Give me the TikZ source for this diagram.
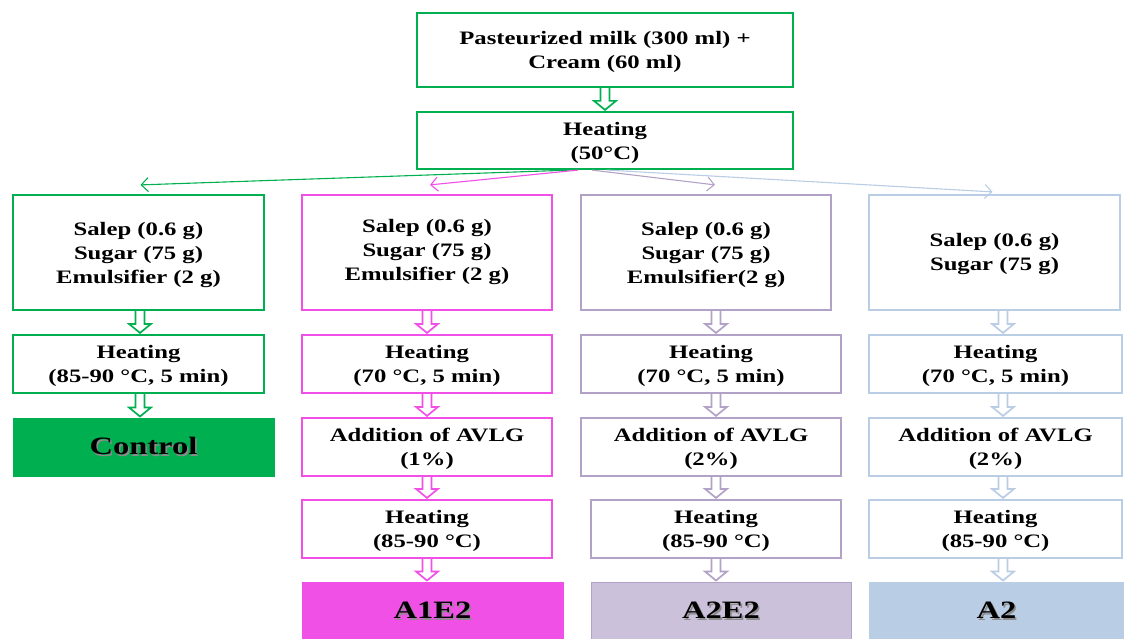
\documentclass[tikz,border=0pt]{standalone}
\usepackage{fontspec}
\setmainfont{Liberation Serif}[FakeStretch=1.3]
\usetikzlibrary{arrows.meta,calc}
\definecolor{grn}{HTML}{00B050}
\definecolor{pnk}{HTML}{F050E6}
\definecolor{prp}{HTML}{B3A2C7}
\definecolor{prpfill}{HTML}{CCC1DA}
\definecolor{blu}{HTML}{B9CDE5}
\newcommand{\shadowtext}[1]{\rlap{\hspace{1.6pt}\raisebox{-1.6pt}{\textcolor{black!45}{#1}}}#1}

\begin{document}
\begin{tikzpicture}[x=1pt, y=1pt,
    box/.style={draw=#1, line width=2.2pt, fill=white, align=center, inner sep=0pt,
      text depth=-12pt, font=\fontsize{19}{24}\selectfont\bfseries},
    fin/.style={draw=#1, line width=1pt, fill=#1, inner sep=0pt, minimum height=58,
      font=\fontsize{25}{29}\selectfont\bfseries},
    blk/.style={draw=#1, line width=1.7pt, fill=white, line join=miter, to path={
      let \p1=(\tikztostart), \p2=(\tikztotarget) in
      (\x1-4.5pt,\y1) -- (\x1-4.5pt,\y2+10pt) -- (\x1-11pt,\y2+10pt) -- (\x1,\y2+1pt)
      -- (\x1+11pt,\y2+10pt) -- (\x1+4.5pt,\y2+10pt) -- (\x1+4.5pt,\y1)}},
    fan/.style={draw=#1, line width=1.1pt, -{Straight Barb[length=7pt, width=14pt]}}]
    \useasboundingbox (0,0) rectangle (1124,-639);

    % common start
    \node[box=grn, minimum width=376, minimum height=74] (milk) at (605,-50)
      {Pasteurized milk (300 ml) +\\Cream (60 ml)};
    \node[box=grn, minimum width=376, minimum height=57] (heat0) at (605,-140.5)
      {Heating\\(50°C)};
    \draw[blk=grn] (milk.south) to (heat0.north);

    % control
    \node[box=grn, minimum width=251, minimum height=115] (salepA) at (138.5,-252.5)
      {Salep (0.6 g)\\Sugar (75 g)\\Emulsifier (2 g)};
    \node[box=grn, minimum width=251, minimum height=58] (heatA) at (138.5,-364)
      {Heating\\(85-90 °C, 5 min)};
    \node[fin=grn, minimum width=261] (ctrl) at (143.5,-447) {\shadowtext{Control}};

    % A1E2
    \node[box=pnk, minimum width=250, minimum height=115, text depth=6pt] (salepB) at (427,-252.5)
      {Salep (0.6 g)\\Sugar (75 g)\\Emulsifier (2 g)};
    \node[box=pnk, minimum width=250, minimum height=58] (heatB) at (427,-364)
      {Heating\\(70 °C, 5 min)};
    \node[box=pnk, minimum width=250, minimum height=58] (addB) at (427,-447)
      {Addition of AVLG\\(1\%)};
    \node[box=pnk, minimum width=250, minimum height=58] (heat2B) at (427,-529)
      {Heating\\(85-90 °C)};
    \node[fin=pnk, minimum width=261] (finB) at (432.5,-611) {\shadowtext{A1E2}};

    % A2E2
    \node[box=prp, minimum width=250, minimum height=115] (salepC) at (706,-252.5)
      {Salep (0.6 g)\\Sugar (75 g)\\Emulsifier(2 g)};
    \node[box=prp, minimum width=260, minimum height=58] (heatC) at (711,-364)
      {Heating\\(70 °C, 5 min)};
    \node[box=prp, minimum width=260, minimum height=58] (addC) at (711,-447)
      {Addition of AVLG\\(2\%)};
    \node[box=prp, minimum width=250, minimum height=58] (heat2C) at (716,-529)
      {Heating\\(85-90 °C)};
    \node[fin=prpfill, draw=prp, minimum width=260] (finC) at (721,-611) {\shadowtext{A2E2}};

    % A2
    \node[box=blu, minimum width=251, minimum height=115, text depth=2pt] (salepD) at (994.5,-252.5)
      {Salep (0.6 g)\\Sugar (75 g)};
    \node[box=blu, minimum width=253, minimum height=58] (heatD) at (995.5,-364)
      {Heating\\(70 °C, 5 min)};
    \node[box=blu, minimum width=253, minimum height=58] (addD) at (995.5,-447)
      {Addition of AVLG\\(2\%)};
    \node[box=blu, minimum width=253, minimum height=58] (heat2D) at (995.5,-529)
      {Heating\\(85-90 °C)};
    \node[fin=blu, minimum width=255] (finD) at (996.5,-611) {\shadowtext{A2}};

    % split after heating
    \draw[fan=grn] ([xshift=-35pt]heat0.south) -- ([xshift=2pt, yshift=9pt]salepA.north);
    \draw[fan=pnk] ([xshift=-27pt]heat0.south) -- ([xshift=3pt, yshift=9pt]salepB.north);
    \draw[fan=prp] ([xshift=-13pt]heat0.south) -- ([xshift=9pt, yshift=9pt]salepC.north);
    \draw[fan=blu] ([xshift=2pt]heat0.south) -- ([xshift=-2pt, yshift=2pt]salepD.north);

    % arrows down each column
    \coordinate (ax1) at (140,0);
    \coordinate (ax2) at (427,0);
    \coordinate (ax3) at (716,0);
    \coordinate (ax4) at (1003,0);
    \draw[blk=grn] (salepA.south -| ax1) to (heatA.north -| ax1);
    \draw[blk=grn] (heatA.south -| ax1) to (ctrl.north -| ax1);
    \draw[blk=pnk] (salepB.south -| ax2) to (heatB.north -| ax2);
    \draw[blk=pnk] (heatB.south -| ax2) to (addB.north -| ax2);
    \draw[blk=pnk] (addB.south -| ax2) to (heat2B.north -| ax2);
    \draw[blk=pnk] (heat2B.south -| ax2) to (finB.north -| ax2);
    \draw[blk=prp] (salepC.south -| ax3) to (heatC.north -| ax3);
    \draw[blk=prp] (heatC.south -| ax3) to (addC.north -| ax3);
    \draw[blk=prp] (addC.south -| ax3) to (heat2C.north -| ax3);
    \draw[blk=prp] (heat2C.south -| ax3) to (finC.north -| ax3);
    \draw[blk=blu] (salepD.south -| ax4) to (heatD.north -| ax4);
    \draw[blk=blu] (heatD.south -| ax4) to (addD.north -| ax4);
    \draw[blk=blu] (addD.south -| ax4) to (heat2D.north -| ax4);
    \draw[blk=blu] (heat2D.south -| ax4) to (finD.north -| ax4);
\end{tikzpicture}
\end{document}
